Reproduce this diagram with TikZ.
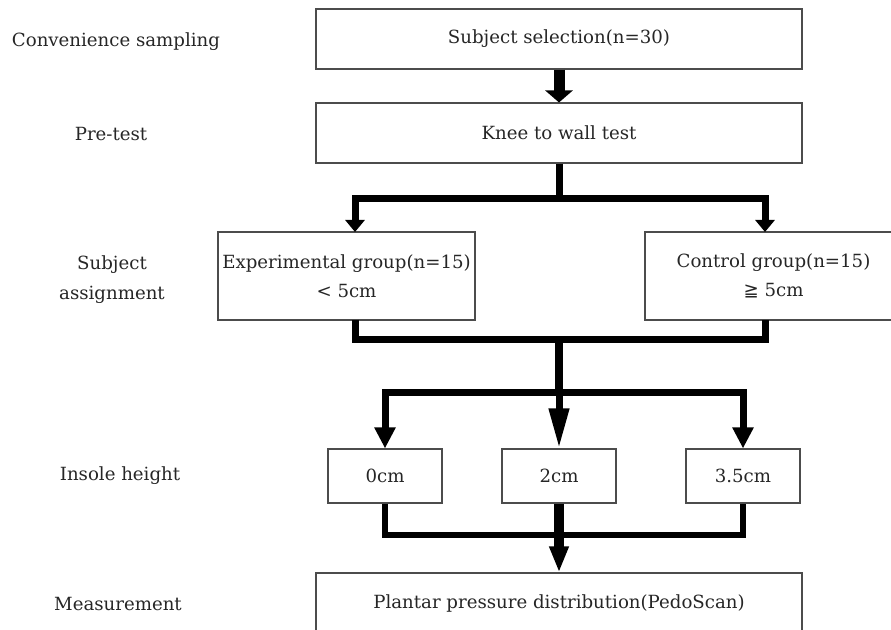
\documentclass[tikz,border=0pt]{standalone}
\usepackage{fontspec}
\setmainfont{DejaVu Serif}
\newfontfamily\symfont{DejaVu Sans}
\usetikzlibrary{arrows.meta}

\begin{document}
\begin{tikzpicture}[
        box/.style={draw=black!70, line width=0.9pt, text=black!85, align=center,
            inner sep=0pt, font=\fontsize{15.5}{24.7}\selectfont},
        side/.style={text=black!85, align=center, font=\fontsize{15.5}{25.6}\selectfont},
        flow/.style={line width=0.21cm},
        headS/.style={-{Triangle[length=0.36cm, width=0.57cm]}},
        headM/.style={-{Triangle[length=0.63cm, width=0.6cm]}},
        headL/.style={-{Triangle[length=1.2cm, width=0.57cm]}}
    ]
        \useasboundingbox (0, 0) rectangle (26.73, 18.87);
        \clip (0, 0) rectangle (26.73, 18.87);

        % left column
        \node[side] (lsampling) at (3.48, 17.61) {Convenience sampling};
        \node[side] (lpre) at (3.33, 14.85) {Pre-test};
        \node[side] (lassign) at (3.36, 10.47) {Subject\\assignment};
        \node[side] (linsole) at (3.6, 4.59) {Insole height};
        \node[side] (lmeasure) at (3.54, 0.75) {Measurement};

        % boxes
        \node[box, minimum width=14.58cm, minimum height=1.8cm] (sel) at (16.77, 17.7) {Subject selection(n=30)};
        \node[box, minimum width=14.58cm, minimum height=1.8cm] (pre) at (16.77, 14.88) {Knee to wall test};

        \node[box, minimum width=7.71cm, minimum height=2.64cm] (exp) at (10.395, 10.59)
            {Experimental group(n=15)\\< 5cm};
        \node[box, minimum width=7.71cm, minimum height=2.64cm] (ctrl) at (23.205, 10.59)
            {Control group(n=15)\\{\symfont ≧} 5cm};

        \node[box, minimum width=3.42cm, minimum height=1.62cm] (h0) at (11.55, 4.59) {0cm};
        \node[box, minimum width=3.42cm, minimum height=1.62cm] (h2) at (16.77, 4.59) {2cm};
        \node[box, minimum width=3.42cm, minimum height=1.62cm] (h35) at (22.29, 4.59) {3.5cm};

        \node[box, minimum width=14.58cm, minimum height=1.8cm] (meas) at (16.77, 0.78)
            {Plantar pressure distribution(PedoScan)};

        % connectors
        \draw[line width=0.33cm, -{Triangle[length=0.36cm, width=0.81cm]}] (sel) -- (pre);

        \coordinate (split1) at (16.77, 12.9);
        \coordinate (expin) at (10.65, 11.91);
        \coordinate (ctrlin) at (22.95, 11.91);
        \draw[flow] (pre) -- (split1);
        \draw[flow, headS] (split1) -| (expin);
        \draw[flow, headS] (split1) -| (ctrlin);

        \coordinate (expout) at (10.65, 9.27);
        \coordinate (ctrlout) at (22.95, 9.27);
        \coordinate (join1) at (16.77, 8.67);
        \coordinate (split2) at (16.77, 7.11);
        \draw[flow] (expout) |- (join1) -| (ctrlout);
        \draw[line width=0.24cm] (join1) -- (split2);
        \draw[flow, headM] (split2) -| (h0);
        \draw[flow, headL] (split2) -- (h2);
        \draw[flow, headM] (split2) -| (h35);

        \coordinate (join2) at (16.77, 2.82);
        \draw[line width=0.18cm] (h0) |- (join2) -| (h35);
        \draw[line width=0.3cm] (h2) -- (join2);
        \draw[line width=0.3cm, -{Triangle[length=0.78cm, width=0.54cm]}] (join2) -- (meas);
\end{tikzpicture}
\end{document}
